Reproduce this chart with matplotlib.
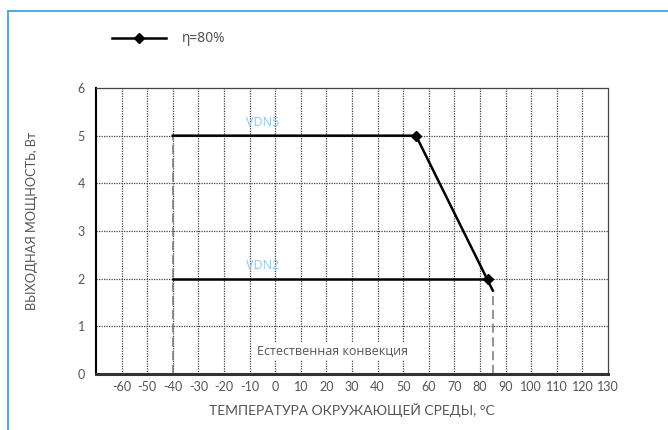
import matplotlib
matplotlib.use("Agg")
import matplotlib.pyplot as plt
from matplotlib.lines import Line2D

# Data
x_ticks = [-60, -50, -40, -30, -20, -10, 0, 10, 20, 30, 40, 50, 60, 70, 80, 90, 100, 110, 120, 130]
y_ticks = [0, 1, 2, 3, 4, 5, 6]
vdn5_temp = [-40, 55, 85]
vdn5_power = [5, 5, 1.75]
vdn2_temp = [-40, 83]
vdn2_power = [2, 2]
marker_temp = [55, 83]
marker_power = [5, 2]
left_limit_temp = -40
left_limit_power = 5
right_limit_temp = 85
right_limit_power = 1.75

plt.rcParams['font.family'] = ['Open Sans', 'DejaVu Sans']
narrow = ['Liberation Sans Narrow', 'Lato', 'DejaVu Sans']

fig = plt.figure(figsize=(6.68, 4.30), dpi=100)
ax = fig.add_axes([96/668, 1-374/430, (608-96)/668, (374-88)/430])

# Frame (light blue)
fig.add_artist(Line2D([8/668, 1.0], [1-11/430, 1-11/430], color='#4aa3d6', lw=1.3, transform=fig.transFigure))
fig.add_artist(Line2D([8/668, 8/668], [0, 1-11/430], color='#4aa3d6', lw=1.3, transform=fig.transFigure))

ax.set_xlim(-70, 130)
ax.set_ylim(0, 6)

# grid
for xv in x_ticks[:-1]:
    ax.axvline(xv, color='#444444', lw=0.9, ls=(0, (1, 1)), zorder=1)
for yv in y_ticks[1:-1]:
    ax.axhline(yv, color='#444444', lw=0.9, ls=(0, (1, 1)), zorder=1)

# dashed limits
ax.plot([left_limit_temp, left_limit_temp], [0, left_limit_power], color='#777777', lw=1.1, ls=(0, (6, 3)), zorder=2)
ax.plot([right_limit_temp, right_limit_temp], [0, right_limit_power], color='#777777', lw=1.1, ls=(0, (6, 3)), zorder=2)

ax.plot(vdn5_temp, vdn5_power, color='black', lw=1.8, zorder=3)
ax.plot(vdn2_temp, vdn2_power, color='black', lw=1.8, zorder=3)
ax.plot(marker_temp, marker_power, ls='none', marker='D', ms=5, color='black', zorder=4)

ax.text(-5, 5.28, 'VDN5', color='#8cc8ee', fontsize=9, ha='center', va='center')
ax.text(-5, 2.28, 'VDN2', color='#8cc8ee', fontsize=9, ha='center', va='center')
ax.text(22.5, 0.48, 'Естественная конвекция', color='#555555', fontsize=9, ha='center', va='center',
        bbox=dict(facecolor='white', edgecolor='none', pad=2), zorder=5)

for s in ['top', 'right']:
    ax.spines[s].set_linestyle((0, (1, 1)))
    ax.spines[s].set_color('#444444')
    ax.spines[s].set_linewidth(0.9)
ax.spines['left'].set_color('black')
ax.spines['left'].set_linewidth(1.5)
ax.spines['bottom'].set_color('#333333')
ax.spines['bottom'].set_linewidth(2.2)

ax.set_xticks(x_ticks)
ax.set_xticklabels([str(v) for v in x_ticks], family=narrow)
ax.set_yticks(y_ticks)
ax.set_yticklabels([str(v) for v in y_ticks], family=narrow)
ax.tick_params(axis='both', length=0, colors='#555555', labelsize=9)
ax.tick_params(axis='x', pad=5)
ax.tick_params(axis='y', pad=8)

ax.set_xlabel('ТЕМПЕРАТУРА ОКРУЖАЮЩЕЙ СРЕДЫ, °C', color='#555555', fontsize=10, labelpad=7,
              family=narrow)
fig.text(32/668, 1-221/430, 'ВЫХОДНАЯ МОЩНОСТЬ, Вт', color='#555555', fontsize=9.2,
         rotation=90, ha='center', va='center', family=narrow)

# legend
fig.add_artist(Line2D([112/668, 166/668], [1-38/430, 1-38/430], color='black', lw=1.8,
                      transform=fig.transFigure))
fig.add_artist(Line2D([139/668], [1-38/430], color='black', marker='D', ms=5, ls='none',
                      transform=fig.transFigure))
fig.text(182/668, 1-38/430, 'η=80%', color='#555555', fontsize=10, va='center', ha='left',
         family=['Noto Sans', 'DejaVu Sans'])

fig.savefig('out.png', dpi=100)
